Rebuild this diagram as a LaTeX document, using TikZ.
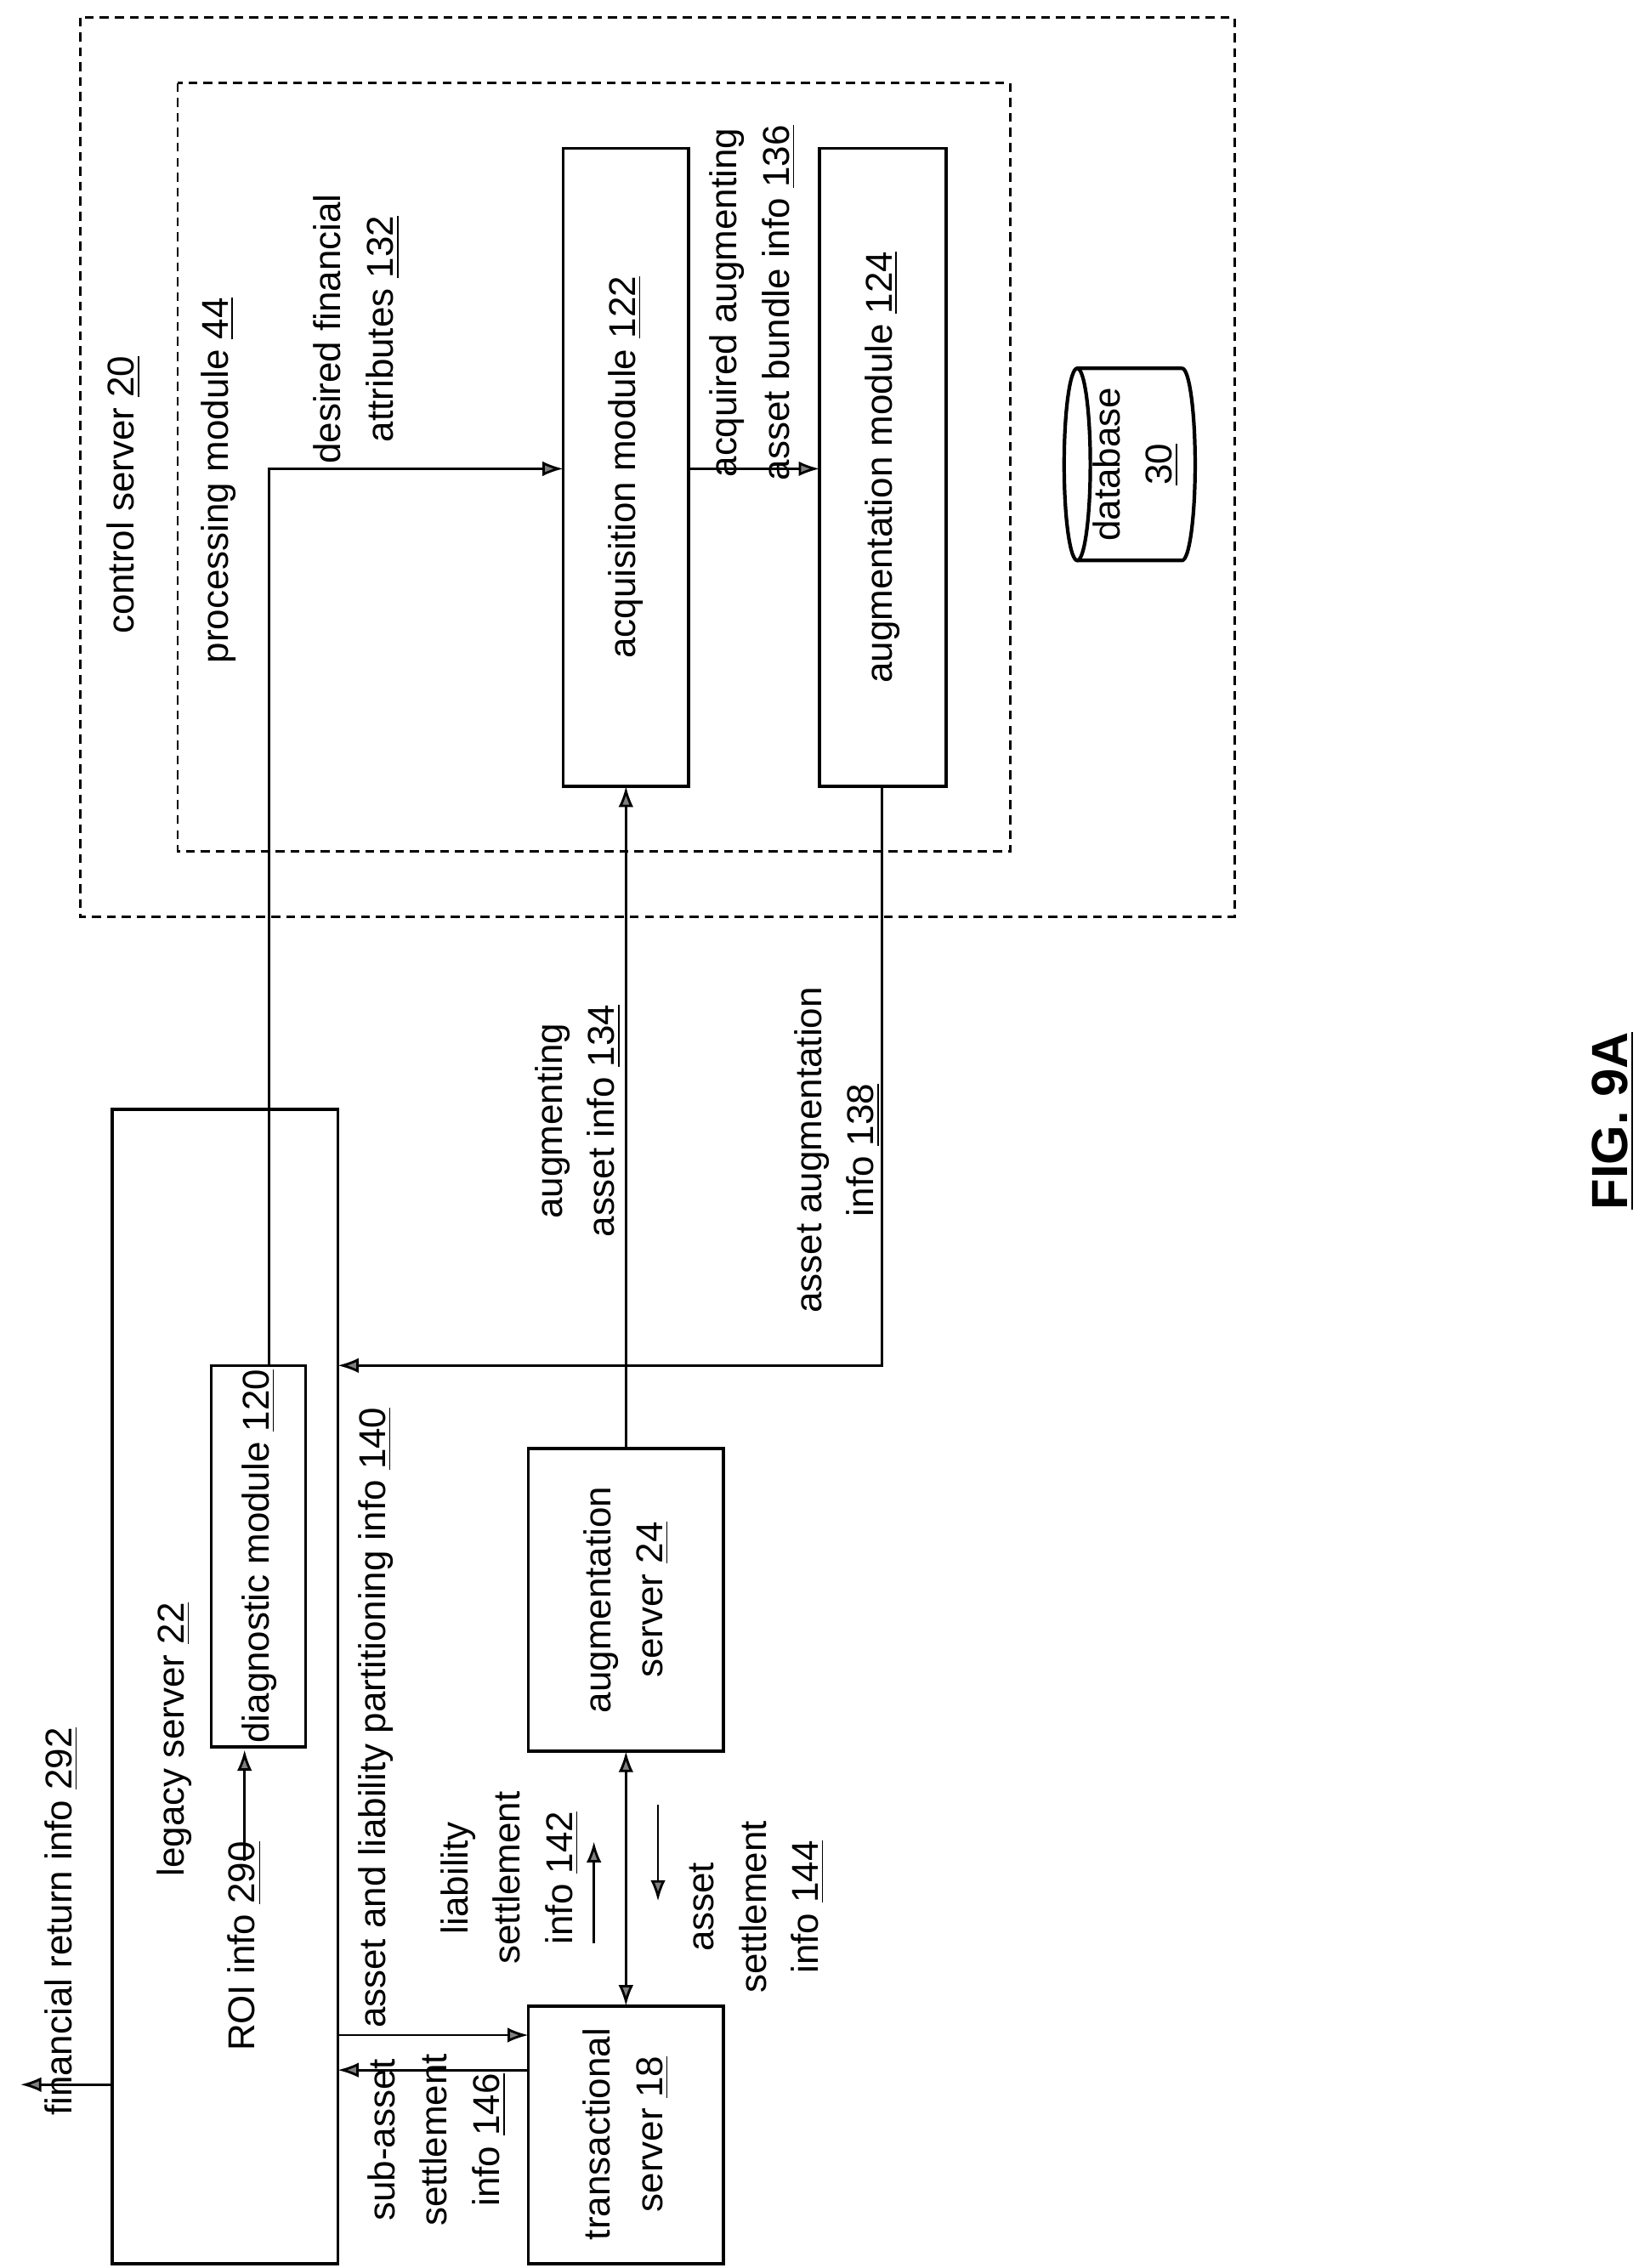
\documentclass[tikz,border=0pt]{standalone}
\usepackage{fontspec}
\setmainfont{Liberation Sans}
\usetikzlibrary{arrows.meta,calc}
\begin{document}
\begin{tikzpicture}[>={Latex[length=7pt,width=5pt,open,fill=gray]},x=0.01712cm,y=-0.01712cm,
    font=\fontsize{12.5}{17.5}\selectfont,
    lbl/.style={rotate=90,align=center},
    box/.style={line width=1pt},
    conn/.style={line width=0.8pt}]
                \useasboundingbox (0,0) rectangle (1133,1558);
                % dashed frames
                \draw[densely dashed,line width=0.8pt] (55,12) rectangle (848,630);
                \draw[densely dashed,line width=0.8pt] (122,57) rectangle (694,585);
                \node[lbl] (ctrl) at (85,340) {control server \underline{20}};
                \node[lbl] (proc) at (150,330) {processing module \underline{44}};
                % modules
                \draw[box] (387,102) rectangle (473,540);
                \coordinate (acqL) at (387,322); \coordinate (acqR) at (473,322); \coordinate (acqB) at (430,540);
                \node[lbl] (acqT) at (430,321) {acquisition module \underline{122}};
                \draw[box] (563,102) rectangle (650,540);
                \coordinate (augL) at (563,322); \coordinate (augB) at (606,540);
                \node[lbl] (augT) at (606,321) {augmentation module \underline{124}};
                % database
                \draw[line width=1.2pt] plot[domain=0:360,samples=72,smooth] ({740+9*cos(\x)},{319+66*sin(\x)});
                \draw[line width=1.2pt] (740,253) -- (812,253) plot[domain=-90:90,samples=36,smooth] ({812+9*cos(\x)},{319+66*sin(\x)}) -- (740,385);
                \node[lbl] (db) at (780,319) {database\\\underline{30}};
                % servers
                \draw[box] (77,762) rectangle (232,1555);
                \coordinate (legR) at (232,938); \coordinate (legL) at (77,1432);
                \node[lbl] (legT) at (120,1195) {legacy server \underline{22}};
                \draw[box] (145,938) rectangle (210,1200);
                \coordinate (diagT) at (185,938); \coordinate (diagB) at (168,1202);
                \node[lbl] (diagTx) at (178,1069) {diagnostic module \underline{120}};
                \draw[box] (363,995) rectangle (497,1203);
                \coordinate (asT) at (430,995); \coordinate (asB) at (430,1203);
                \node[lbl] (asTx) at (430,1099) {augmentation\\server \underline{24}};
                \draw[box] (363,1378) rectangle (497,1555);
                \coordinate (tsT) at (430,1378);
                \node[lbl] (tsTx) at (430,1466) {transactional\\server \underline{18}};
                % connectors
                \draw[conn,->] (diagT) |- (acqL);
                \draw[conn,->] (acqR) -- (augL);
                \draw[conn,->] (asT) -- (acqB);
                \draw[conn,->] (augB) |- (legR);
                \draw[conn,<->] (asB) -- (tsT);
                \draw[conn,->] (232,1398) -- (363,1398);
                \draw[conn,->] (363,1422) -- (232,1422);
                \draw[conn,->] (legL) -- (14,1432);
                \draw[conn,->] (168,1278) -- (diagB);
                \draw[conn,->] (408,1335) -- (408,1265);
                \draw[conn,->] (452,1240) -- (452,1306);
                % labels
                \node[lbl] (l132) at (245,226) {desired financial\\attributes \underline{132}};
                \node[lbl] (l136) at (517,208) {acquired augmenting\\asset bundle info \underline{136}};
                \node[lbl] (l134) at (397,770) {augmenting\\asset info \underline{134}};
                \node[lbl] (l138) at (575,790) {asset augmentation\\info \underline{138}};
                \node[lbl] (l140) at (258,1180) {asset and liability partitioning info \underline{140}};
                \node[lbl] (l142) at (350,1290) {liability\\settlement\\info \underline{142}};
                \node[lbl] (l144) at (520,1310) {asset\\settlement\\info \underline{144}};
                \node[lbl] (l146) at (300,1470) {sub-asset\\settlement\\info \underline{146}};
                \node[lbl] (l290) at (168,1337) {ROI info \underline{290}};
                \node[lbl] (l292) at (42,1320) {financial return info \underline{292}};
                \node[lbl,font=\fontsize{17}{20}\selectfont\bfseries] (fig) at (1108,770) {\underline{FIG. 9A}};
            \end{tikzpicture}
\end{document}
